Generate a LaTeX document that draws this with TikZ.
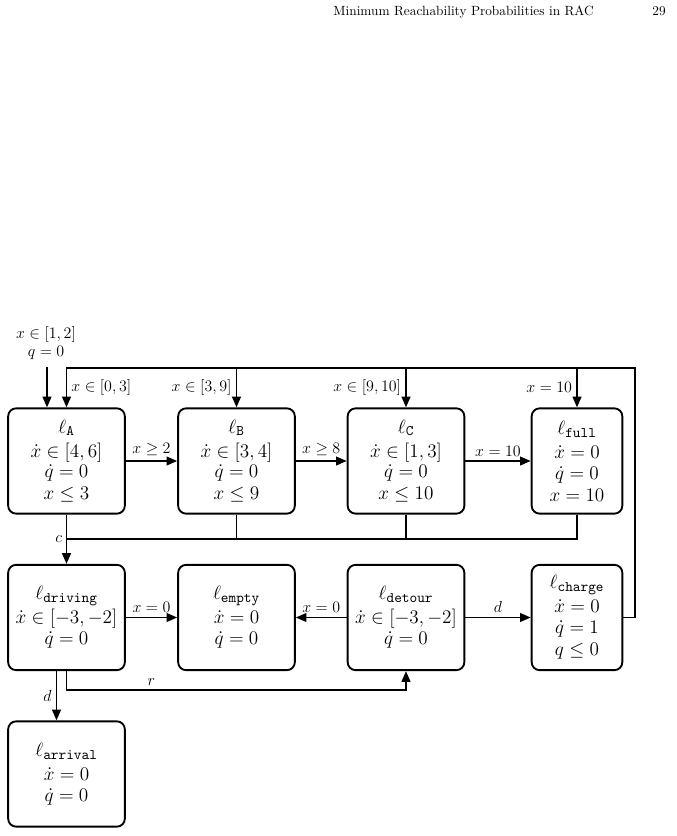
\documentclass[tikz,border=0pt]{standalone}
\usepackage{amsmath}
\usepackage{tikz}
\usetikzlibrary{arrows.meta}
\tikzset{>={Triangle[length=8pt,width=6.5pt]}}
\tikzset{
  loc/.style={draw, line width=1.4pt, rounded corners=6pt, minimum width=87.5pt,
    minimum height=79pt, align=center, inner sep=0pt,
    font=\fontsize{15}{15.5}\selectfont},
  locnarrow/.style={loc, minimum width=68pt},
  wire/.style={line width=1.4pt},
  edge/.style={wire, ->},
  lbl/.style={font=\fontsize{11.5}{13}\selectfont, inner sep=3pt},
  head/.style={anchor=base east, inner sep=0pt, font=\fontsize{10}{12}\selectfont},
}

\begin{document}
\begin{tikzpicture}[x=0.75pt,y=-0.75pt]
      \useasboundingbox (0,0) rectangle (676,836);

      \node[head](title) at (594,15) {Minimum Reachability Probabilities in RAC};
      \node[head](page) at (666,15) {29};

      \node[loc](A) at (66.5,461) {$\ell_{\mathtt{A}}$\\[2.5pt]
        $\dot{x} \in [4,6]$\\ $\dot{q} = 0$\\[1pt] $x \leq 3$};
      \node[loc](B) at (236.5,461) {$\ell_{\mathtt{B}}$\\[2.5pt]
        $\dot{x} \in [3,4]$\\ $\dot{q} = 0$\\[1pt] $x \leq 9$};
      \node[loc](C) at (406,461) {$\ell_{\mathtt{C}}$\\[2.5pt]
        $\dot{x} \in [1,3]$\\ $\dot{q} = 0$\\[1pt] $x \leq 10$};
      \node[locnarrow](full) at (577,461) {$\ell_{\mathtt{full}}$\\[2.5pt]
        $\dot{x} = 0$\\ $\dot{q} = 0$\\[1pt] $x = 10$};

      \node[loc](driving) at (66.5,617.5) {$\ell_{\mathtt{driving}}$\\[2.5pt]
        $\dot{x} \in [-3,-2]$\\ $\dot{q} = 0$};
      \node[loc](empty) at (236.5,617.5) {$\ell_{\mathtt{empty}}$\\[2.5pt]
        $\dot{x} = 0$\\ $\dot{q} = 0$};
      \node[loc](detour) at (406,617.5) {$\ell_{\mathtt{detour}}$\\[2.5pt]
        $\dot{x} \in [-3,-2]$\\ $\dot{q} = 0$};
      \node[locnarrow](charge) at (577,617.5) {$\ell_{\mathtt{charge}}$\\[2.5pt]
        $\dot{x} = 0$\\ $\dot{q} = 1$\\[1pt] $q \leq 0$};

      \node[loc](arrival) at (66.5,774) {$\ell_{\mathtt{arrival}}$\\[2.5pt]
        $\dot{x} = 0$\\ $\dot{q} = 0$};

      \node[lbl, align=center](init) at (46,343) {$x \in [1,2]$\\ $q = 0$};
      \coordinate (start) at (47,367);
      \draw[edge] (start) -- (start |- A.north);

      \coordinate (top) at (635,368);
      \draw[edge] (charge.east) -| (top) -| (A.north)
        node[lbl, right, pos=0.75] {$x \in [0,3]$};
      \draw[edge] (B.north |- top) -- node[lbl, left] {$x \in [3,9]$} (B.north);
      \draw[edge] (C.north |- top) -- node[lbl, left] {$x \in [9,10]$} (C.north);
      \draw[edge] (full.north |- top) -- node[lbl, left] {$x = 10$} (full.north);

      \draw[edge] (A) -- node[lbl, above] {$x \geq 2$} (B);
      \draw[edge] (B) -- node[lbl, above] {$x \geq 8$} (C);
      \draw[edge] (C) -- node[lbl, above] {$x = 10$} (full);

      \coordinate (bus) at (0,539);
      \draw[wire] (full.south) |- (A.south |- bus);
      \draw[wire] (B.south) -- (B.south |- bus);
      \draw[wire] (C.south) -- (C.south |- bus);
      \draw[edge] (A.south) -- (driving.north);
      \node[lbl, left](c) at (A.south |- bus) {$c$};

      \draw[edge] (driving) -- node[lbl, above] {$x = 0$} (empty);
      \draw[edge] (detour) -- node[lbl, above] {$x = 0$} (empty);
      \draw[edge] (detour) -- node[lbl, above] {$d$} (charge);

      \coordinate (back) at (0,690);
      \draw[edge] (driving.south) -- (driving.south |- back)
        -- node[lbl, above, pos=0.25] {$r$} (detour.south |- back) -- (detour.south);
      \draw[edge] ([xshift=-7.5pt]driving.south) -- node[lbl, left] {$d$}
        ([xshift=-7.5pt]arrival.north);
    \end{tikzpicture}
\end{document}
